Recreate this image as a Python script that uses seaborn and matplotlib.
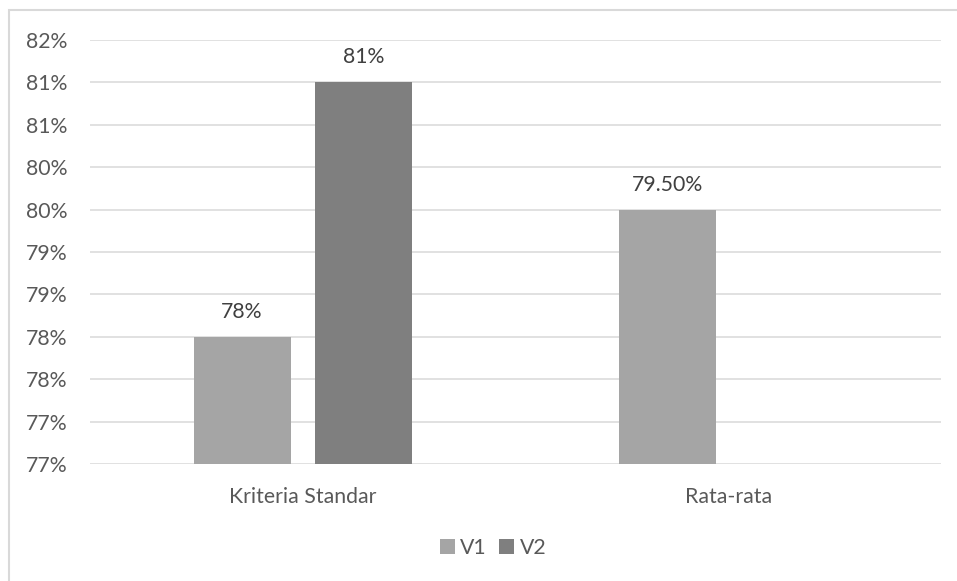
import matplotlib
matplotlib.use("Agg")
import matplotlib.pyplot as plt
from matplotlib.patches import Rectangle
import numpy as np
import pandas as pd
import seaborn as sns

# Data
categories = ["Kriteria Standar", "Rata-rata"]
series = ["V1", "V2"]
v1_values = [0.785, 0.80]
v2_values = [0.815, np.nan]
v1_labels = ["78%", "79.50%"]
v2_labels = ["81%", ""]
y_ticks = [0.77, 0.775, 0.78, 0.785, 0.79, 0.795, 0.80, 0.805, 0.81, 0.815, 0.82]
y_tick_labels = ["77%", "77%", "78%", "78%", "79%", "79%", "80%", "80%", "81%", "81%", "82%"]

df = pd.DataFrame({
    "kategori": categories * 2,
    "seri": [series[0]] * len(categories) + [series[1]] * len(categories),
    "nilai": v1_values + v2_values,
})

sns.set_theme(style="white")
plt.rcParams["font.family"] = ["Lato", "DejaVu Sans"]

text_color = "#595959"
grid_color = "#D9D9D9"
palette = {"V1": "#A5A5A5", "V2": "#7F7F7F"}
fs = 15.3

fig = plt.figure(figsize=(9.57, 5.81), dpi=100)
fig.patch.set_facecolor("white")
ax = fig.add_axes([90 / 957, 117 / 581, 851 / 957, 424 / 581])

sns.barplot(data=df, x="kategori", y="nilai", hue="seri", order=categories,
            hue_order=series, palette=palette, width=0.57, gap=0.2,
            saturation=1, linewidth=0, ax=ax, legend=False)

ax.set_xlim(-0.5, 1.5)
ax.set_ylim(0.77, 0.82)
ax.set_yticks(y_ticks)
ax.set_yticklabels(y_tick_labels)
ax.yaxis.grid(True, color=grid_color, linewidth=1.1)
ax.set_axisbelow(True)
for s in ax.spines.values():
    s.set_visible(False)
ax.tick_params(axis="y", length=0, pad=16, labelsize=fs, labelcolor=text_color)
ax.tick_params(axis="x", length=0, pad=16.5, labelsize=fs, labelcolor=text_color)
ax.set_xlabel("")
ax.set_ylabel("")

# Value labels above bars
label_sets = [v1_labels, v2_labels]
for container, labels in zip(ax.containers, label_sets):
    for bar, lab in zip(container, labels):
        h = bar.get_height()
        if not lab or np.isnan(h):
            continue
        ax.annotate(lab, (bar.get_x() + bar.get_width() / 2, h),
                    xytext=(0, 25), textcoords="offset pixels",
                    ha="center", va="center", fontsize=fs, color="#404040")

# Legend at the bottom
handles = [Rectangle((0, 0), 1, 1, facecolor=palette[s], edgecolor="none") for s in series]
fig.legend(handles, series, loc="center", bbox_to_anchor=(493 / 957, 1 - 548 / 581),
           ncol=2, frameon=False, fontsize=fs, labelcolor=text_color,
           handlelength=0.7, handleheight=0.7, handletextpad=0.25, columnspacing=0.6)

# Chart area border
fig.add_artist(Rectangle((9 / 957, -0.01), 1.0, 1 - 10 / 581 + 0.01,
                         transform=fig.transFigure, fill=False,
                         edgecolor="#D9D9D9", linewidth=1.5))

fig.savefig("out.png", dpi=100, facecolor="white")
